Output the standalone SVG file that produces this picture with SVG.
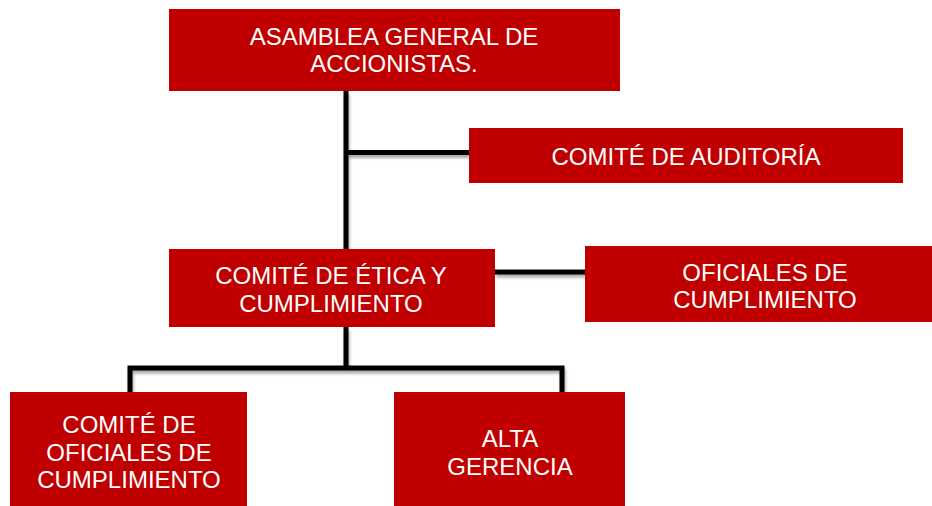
<svg xmlns="http://www.w3.org/2000/svg" width="932" height="506" viewBox="0 0 932 506">
<style>
.box{fill:#C00000}
.t{font-family:"Liberation Sans",Arial,sans-serif;font-size:24px;fill:#FFFFFF;text-anchor:middle}
.c{fill:none;stroke:#000000;stroke-width:5;stroke-linecap:butt;stroke-linejoin:miter}
</style>
<defs>
<filter id="sh" x="-10%" y="-10%" width="120%" height="140%">
<feGaussianBlur in="SourceAlpha" stdDeviation="1.5"/>
<feOffset dx="1" dy="3" result="b"/>
<feComponentTransfer><feFuncA type="linear" slope="0.35"/></feComponentTransfer>
<feMerge><feMergeNode/><feMergeNode in="SourceGraphic"/></feMerge>
</filter>
</defs>
<rect width="932" height="506" fill="#FFFFFF"/>
<g id="connectors" filter="url(#sh)">
<path class="c" d="M346 91 V249"/>
<path class="c" d="M346 152.5 H469"/>
<path class="c" d="M495 272 H585"/>
<path class="c" d="M346 327 V368 M130 392 V368 H562 V392"/>
</g>
<g id="asamblea">
<rect class="box" x="169" y="9" width="451" height="82"/>
<text class="t" x="394" y="45">ASAMBLEA GENERAL DE</text>
<text class="t" x="394" y="72">ACCIONISTAS.</text>
</g>
<g id="auditoria">
<rect class="box" x="469" y="128" width="434" height="55"/>
<text class="t" x="686" y="165">COMITÉ DE AUDITORÍA</text>
</g>
<g id="etica">
<rect class="box" x="169" y="249" width="326" height="78"/>
<text class="t" x="331" y="284">COMITÉ DE ÉTICA Y</text>
<text class="t" x="331" y="311.5">CUMPLIMIENTO</text>
</g>
<g id="oficiales">
<rect class="box" x="585" y="246" width="347" height="76"/>
<text class="t" x="765" y="281">OFICIALES DE</text>
<text class="t" x="765" y="307.5">CUMPLIMIENTO</text>
</g>
<g id="comite-oficiales">
<rect class="box" x="10" y="392" width="237" height="114"/>
<text class="t" x="129" y="433">COMITÉ DE</text>
<text class="t" x="129" y="460.5">OFICIALES DE</text>
<text class="t" x="129" y="488">CUMPLIMIENTO</text>
</g>
<g id="alta-gerencia">
<rect class="box" x="394" y="392" width="231" height="114"/>
<text class="t" x="510" y="447">ALTA</text>
<text class="t" x="510" y="474.5">GERENCIA</text>
</g>
</svg>
